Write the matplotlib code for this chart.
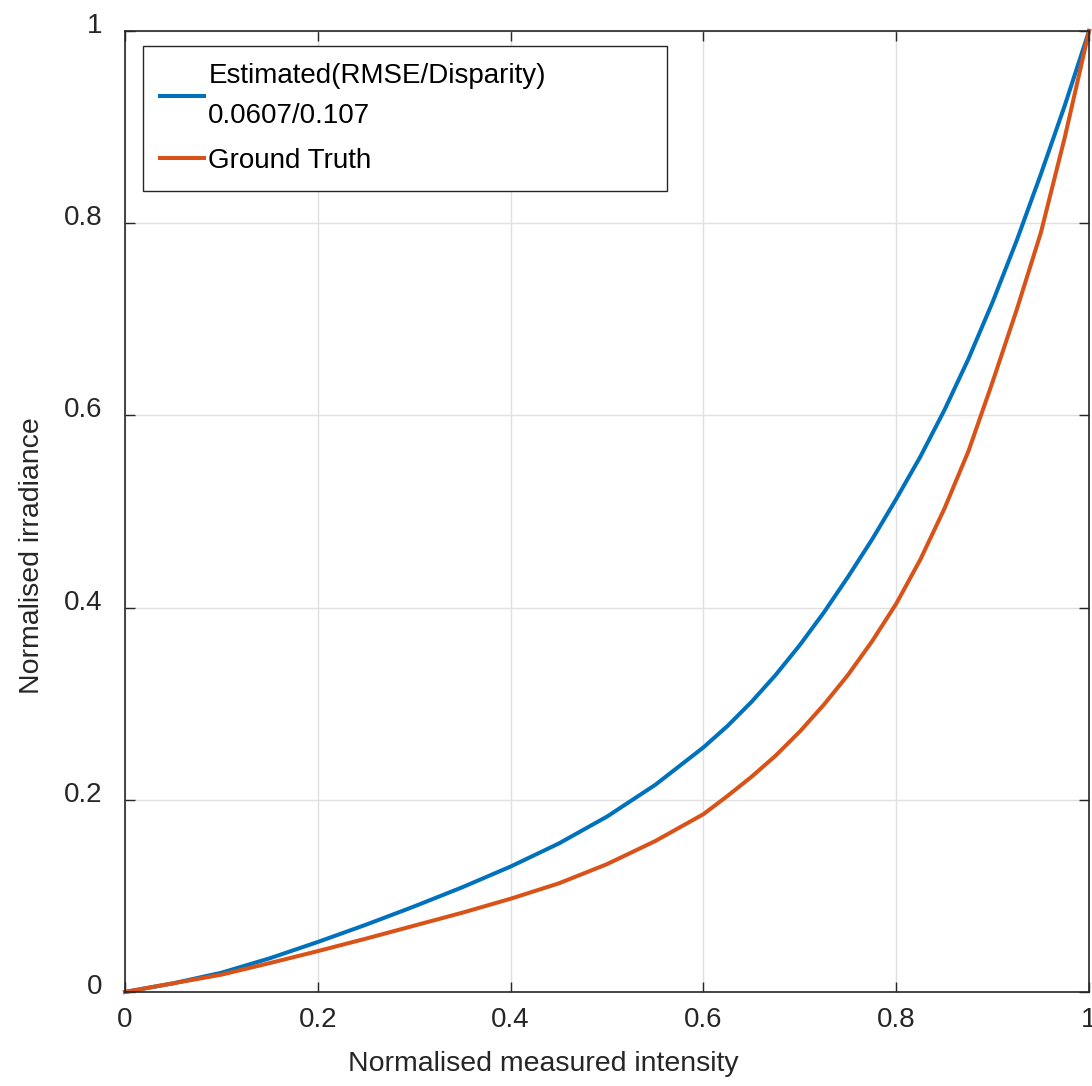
import matplotlib
matplotlib.use("Agg")
import matplotlib.pyplot as plt
import matplotlib.transforms as mtransforms

plt.rcParams['font.family'] = ['Liberation Sans', 'DejaVu Sans']

# normalised intensity samples (finer steps towards the bright end)
intensity = [0.0, 0.05, 0.1, 0.15, 0.2, 0.25, 0.3, 0.35, 0.4, 0.45, 0.5, 0.55,
             0.6, 0.625, 0.65, 0.675, 0.7, 0.725, 0.75, 0.775, 0.8, 0.825,
             0.85, 0.875, 0.9, 0.925, 0.95, 0.975, 1.0]

# estimated response curve
irr_estimated = [0.0, 0.009, 0.020, 0.035, 0.052, 0.070, 0.089, 0.109, 0.1305,
                 0.1545, 0.1825, 0.2155, 0.2545, 0.2768, 0.302, 0.330, 0.361,
                 0.395, 0.432, 0.471, 0.513, 0.557, 0.6055, 0.659, 0.718,
                 0.782, 0.851, 0.923, 1.0]

# ground truth response curve
irr_truth = [0.0, 0.009, 0.018, 0.030, 0.0425, 0.0555, 0.069, 0.0825, 0.097,
             0.113, 0.133, 0.157, 0.185, 0.204, 0.224, 0.246, 0.271, 0.299,
             0.330, 0.365, 0.404, 0.450, 0.503, 0.563, 0.635, 0.710, 0.790,
             0.890, 1.0]

label_est = "Estimated(RMSE/Disparity)\n0.0607/0.107"
label_gt = "Ground Truth"
ticks = [0, 0.2, 0.4, 0.6, 0.8, 1]
tick_labels = ["0", "0.2", "0.4", "0.6", "0.8", "1"]

blue = "#0072BD"
orange = "#D95319"
dark = "#262626"

fig = plt.figure(figsize=(10.92, 10.86), dpi=100)
ax = fig.add_axes([0.1145, 0.0866, 0.8828, 0.8849])

ax.plot(intensity, irr_estimated, color=blue, lw=2.9, label=label_est, clip_on=False)
ax.plot(intensity, irr_truth, color=orange, lw=2.9, label=label_gt, clip_on=False)

ax.set_xlim(0, 1)
ax.set_ylim(0, 1)
ax.set_xticks(ticks)
ax.set_xticklabels(tick_labels)
ax.set_yticks(ticks)
ax.set_yticklabels(tick_labels)

ax.grid(True, color="#e0e0e0", lw=1.0)
ax.set_axisbelow(True)
for sp in ax.spines.values():
    sp.set_color(dark)
    sp.set_linewidth(1.2)

ax.tick_params(direction='in', length=7, width=1.0, top=True, right=True,
               labelsize=20, colors=dark)
ax.tick_params(axis='x', pad=11)
ax.tick_params(axis='y', pad=16)

# y tick labels sit a little above their ticks
shift = mtransforms.ScaledTranslation(0, 0.08, fig.dpi_scale_trans)
for lab in ax.get_yticklabels():
    lab.set_transform(lab.get_transform() + shift)

# axis titles are not centred on the axes
ax.set_xlabel("Normalised measured intensity", fontsize=20.5, color=dark,
              labelpad=13, x=0.434)
ax.set_ylabel("Normalised irradiance", fontsize=20.5, color=dark,
              labelpad=14, y=0.4537)

leg = ax.legend(loc='upper left', bbox_to_anchor=(0.0187, 0.7844, 0.5436, 0.2),
                mode='expand', borderaxespad=0, fancybox=False, edgecolor=dark,
                framealpha=1, fontsize=20, handlelength=1.6, handletextpad=0.15,
                borderpad=0.6, labelspacing=0.7)
leg.get_frame().set_linewidth(1.0)
for t in leg.get_texts():
    t.set_linespacing(1.7)

fig.savefig("out.png", dpi=100)
